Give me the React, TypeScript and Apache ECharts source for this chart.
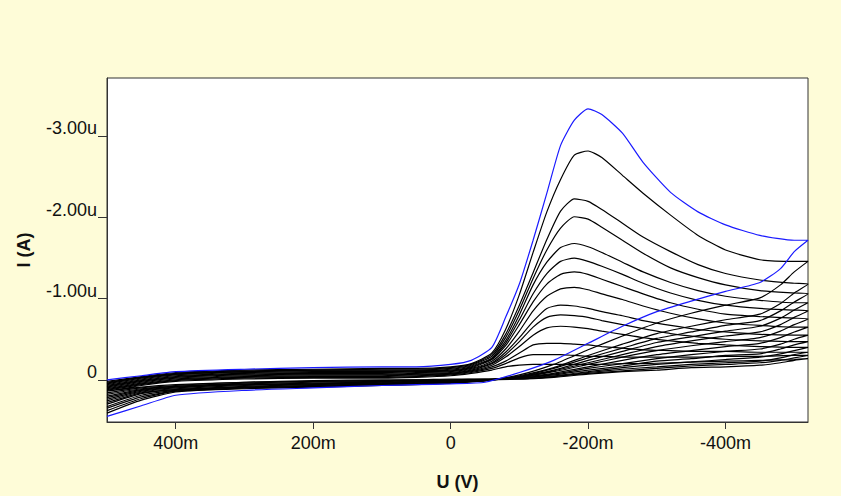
import React, { useEffect, useRef } from 'react';
import * as echarts from 'echarts';

// Voltage grids (V)
const FWD_V = [0.5, 0.45, 0.4, 0.3, 0.2, 0.1, 0.05, 0.0, -0.03, -0.06, -0.08, -0.1, -0.12, -0.14, -0.16, -0.18, -0.2, -0.22, -0.25, -0.28, -0.32, -0.36, -0.4, -0.45, -0.5, -0.52];
const REV_V = [-0.52, -0.5, -0.48, -0.45, -0.4, -0.35, -0.3, -0.25, -0.2, -0.15, -0.1, -0.05, 0.0, 0.05, 0.1, 0.2, 0.3, 0.4, 0.45, 0.5];

// Current (uA) – blue cycle
const BLUE_FWD = [0.0, -0.05, -0.10, -0.13, -0.15, -0.16, -0.16, -0.19, -0.24, -0.40, -0.77, -1.18, -1.72, -2.30, -2.89, -3.20, -3.34, -3.27, -3.04, -2.68, -2.31, -2.07, -1.91, -1.78, -1.72, -1.72];
const BLUE_REV = [-1.72, -1.58, -1.37, -1.20, -1.09, -0.97, -0.84, -0.66, -0.45, -0.24, -0.09, 0.03, 0.05, 0.06, 0.07, 0.10, 0.13, 0.19, 0.32, 0.45];

// Black cycles – forward sweeps
const K1_FWD = [0.02, -0.04, -0.09, -0.12, -0.13, -0.14, -0.14, -0.16, -0.20, -0.33, -0.62, -1.05, -1.57, -2.07, -2.47, -2.77, -2.82, -2.74, -2.52, -2.30, -2.03, -1.78, -1.60, -1.48, -1.46, -1.46];
const K2_FWD = [0.03, -0.03, -0.08, -0.11, -0.12, -0.13, -0.13, -0.15, -0.19, -0.31, -0.56, -0.92, -1.32, -1.73, -2.08, -2.23, -2.20, -2.10, -1.93, -1.76, -1.58, -1.42, -1.31, -1.23, -1.19, -1.18];
const K3_FWD = [0.04, -0.03, -0.07, -0.10, -0.12, -0.12, -0.12, -0.14, -0.18, -0.29, -0.52, -0.86, -1.25, -1.60, -1.87, -2.01, -1.98, -1.88, -1.72, -1.56, -1.38, -1.26, -1.17, -1.10, -1.07, -1.06];
const K4_FWD = [0.05, -0.02, -0.07, -0.10, -0.11, -0.11, -0.11, -0.13, -0.17, -0.27, -0.48, -0.80, -1.17, -1.45, -1.63, -1.68, -1.64, -1.57, -1.45, -1.33, -1.20, -1.10, -1.03, -0.98, -0.95, -0.95];
const K5_FWD = [0.06, -0.01, -0.06, -0.09, -0.10, -0.10, -0.11, -0.12, -0.16, -0.26, -0.45, -0.74, -1.06, -1.31, -1.46, -1.50, -1.46, -1.40, -1.30, -1.19, -1.07, -0.98, -0.92, -0.88, -0.86, -0.85];
const K6_FWD = [0.07, 0.00, -0.05, -0.08, -0.09, -0.09, -0.10, -0.11, -0.15, -0.25, -0.42, -0.68, -0.96, -1.18, -1.30, -1.33, -1.30, -1.24, -1.15, -1.06, -0.95, -0.87, -0.81, -0.78, -0.76, -0.75];
const K7_FWD = [0.08, 0.01, -0.04, -0.07, -0.08, -0.08, -0.09, -0.10, -0.14, -0.23, -0.38, -0.60, -0.85, -1.03, -1.12, -1.14, -1.11, -1.06, -0.99, -0.91, -0.82, -0.75, -0.70, -0.67, -0.65, -0.65];
const K8_FWD = [0.09, 0.02, -0.03, -0.06, -0.07, -0.07, -0.08, -0.09, -0.13, -0.21, -0.34, -0.52, -0.72, -0.88, -0.92, -0.91, -0.88, -0.84, -0.79, -0.73, -0.67, -0.62, -0.59, -0.56, -0.55, -0.55];
const K9_FWD = [0.10, 0.03, -0.02, -0.05, -0.06, -0.06, -0.07, -0.08, -0.12, -0.20, -0.31, -0.47, -0.65, -0.77, -0.80, -0.79, -0.77, -0.73, -0.68, -0.63, -0.57, -0.53, -0.50, -0.48, -0.47, -0.47];
const K10_FWD = [0.11, 0.04, -0.01, -0.04, -0.05, -0.05, -0.06, -0.08, -0.11, -0.18, -0.28, -0.41, -0.55, -0.64, -0.66, -0.65, -0.63, -0.60, -0.56, -0.52, -0.48, -0.45, -0.43, -0.41, -0.40, -0.40];
const K11_FWD = [0.12, 0.05, 0.00, -0.03, -0.04, -0.04, -0.05, -0.07, -0.10, -0.16, -0.23, -0.33, -0.43, -0.45, -0.45, -0.44, -0.43, -0.41, -0.39, -0.37, -0.36, -0.35, -0.35, -0.34, -0.34, -0.34];
const K12_FWD = [0.13, 0.06, 0.01, -0.02, -0.03, -0.03, -0.04, -0.06, -0.09, -0.14, -0.20, -0.27, -0.31, -0.31, -0.31, -0.30, -0.29, -0.29, -0.28, -0.28, -0.28, -0.28, -0.29, -0.29, -0.30, -0.30];
const K13_FWD = [0.14, 0.07, 0.02, -0.01, -0.02, -0.02, -0.03, -0.05, -0.08, -0.12, -0.16, -0.18, -0.19, -0.19, -0.19, -0.19, -0.19, -0.19, -0.20, -0.20, -0.21, -0.22, -0.23, -0.24, -0.25, -0.26];

// Black cycles – reverse sweeps
const K1_REV = [-1.46, -1.33, -1.17, -1.01, -0.92, -0.82, -0.70, -0.54, -0.37, -0.19, -0.06, 0.01, 0.04, 0.06, 0.07, 0.09, 0.11, 0.15, 0.25, 0.41];
const K2_REV = [-1.18, -1.07, -0.94, -0.81, -0.74, -0.66, -0.57, -0.44, -0.30, -0.15, -0.05, 0.01, 0.04, 0.05, 0.06, 0.08, 0.10, 0.14, 0.23, 0.38];
const K3_REV = [-1.06, -0.96, -0.85, -0.73, -0.67, -0.59, -0.51, -0.39, -0.27, -0.14, -0.04, 0.01, 0.03, 0.05, 0.06, 0.08, 0.10, 0.14, 0.21, 0.35];
const K4_REV = [-0.95, -0.86, -0.76, -0.66, -0.60, -0.53, -0.46, -0.35, -0.24, -0.12, -0.04, 0.01, 0.03, 0.04, 0.05, 0.07, 0.09, 0.13, 0.19, 0.33];
const K5_REV = [-0.85, -0.77, -0.68, -0.59, -0.54, -0.48, -0.41, -0.31, -0.21, -0.11, -0.03, 0.01, 0.03, 0.04, 0.05, 0.07, 0.09, 0.12, 0.17, 0.30];
const K6_REV = [-0.75, -0.68, -0.60, -0.52, -0.47, -0.42, -0.36, -0.28, -0.19, -0.10, -0.03, 0.00, 0.02, 0.03, 0.04, 0.06, 0.08, 0.12, 0.16, 0.28];
const K7_REV = [-0.65, -0.59, -0.52, -0.45, -0.41, -0.36, -0.31, -0.24, -0.16, -0.08, -0.03, 0.00, 0.02, 0.03, 0.04, 0.05, 0.07, 0.11, 0.15, 0.26];
const K8_REV = [-0.55, -0.50, -0.44, -0.38, -0.35, -0.31, -0.26, -0.20, -0.14, -0.07, -0.02, 0.00, 0.01, 0.02, 0.03, 0.05, 0.06, 0.10, 0.14, 0.24];
const K9_REV = [-0.47, -0.43, -0.38, -0.32, -0.30, -0.26, -0.23, -0.17, -0.12, -0.06, -0.02, 0.00, 0.01, 0.02, 0.03, 0.04, 0.06, 0.09, 0.13, 0.22];
const K10_REV = [-0.40, -0.36, -0.32, -0.28, -0.25, -0.22, -0.19, -0.15, -0.10, -0.05, -0.02, 0.00, 0.01, 0.01, 0.02, 0.03, 0.05, 0.08, 0.12, 0.20];
const K11_REV = [-0.34, -0.31, -0.27, -0.23, -0.21, -0.19, -0.16, -0.13, -0.09, -0.04, -0.01, 0.00, 0.00, 0.01, 0.01, 0.02, 0.04, 0.08, 0.11, 0.18];
const K12_REV = [-0.30, -0.27, -0.24, -0.21, -0.19, -0.17, -0.14, -0.11, -0.08, -0.04, -0.01, -0.01, 0.00, 0.00, 0.01, 0.02, 0.03, 0.07, 0.10, 0.16];
const K13_REV = [-0.26, -0.24, -0.21, -0.18, -0.16, -0.15, -0.12, -0.10, -0.07, -0.03, -0.01, -0.01, -0.01, 0.00, 0.00, 0.01, 0.03, 0.06, 0.09, 0.14];

const BLACK_FWD = [K1_FWD, K2_FWD, K3_FWD, K4_FWD, K5_FWD, K6_FWD, K7_FWD, K8_FWD, K9_FWD, K10_FWD, K11_FWD, K12_FWD, K13_FWD];
const BLACK_REV = [K1_REV, K2_REV, K3_REV, K4_REV, K5_REV, K6_REV, K7_REV, K8_REV, K9_REV, K10_REV, K11_REV, K12_REV, K13_REV];

// Tick labels
const X_TICKS = [0.4, 0.2, 0, -0.2, -0.4];
const X_LABELS = ['400m', '200m', '0', '-200m', '-400m'];
const Y_TICKS = [-3, -2, -1, 0];
const Y_LABELS = ['-3.00u', '-2.00u', '-1.00u', '0'];

const loop = (fwd: number[], rev: number[]) => [
  ...FWD_V.map((v, i) => [v, fwd[i]]),
  ...REV_V.map((v, i) => [v, rev[i]]),
];

const lookup = (ticks: number[], labels: string[]) => (val: number) => {
  const i = ticks.findIndex((t) => Math.abs(t - val) < 1e-6);
  return i >= 0 ? labels[i] : '';
};

const FONT = '"Liberation Sans", Arial, sans-serif';

export default function App() {
  const ref = useRef<HTMLDivElement>(null);
  useEffect(() => {
    const chart = echarts.init(ref.current!, null, { renderer: 'svg' });
    const series: any[] = BLACK_FWD.map((f, k) => ({
      type: 'line',
      data: loop(f, BLACK_REV[k]),
      showSymbol: false,
      symbol: 'none',
      smooth: 0.2,
      lineStyle: { color: '#000', width: 1.2 },
      silent: true,
    }));
    series.push({
      type: 'line',
      data: loop(BLUE_FWD, BLUE_REV),
      showSymbol: false,
      symbol: 'none',
      smooth: 0.2,
      lineStyle: { color: '#1a1aff', width: 1.2 },
      silent: true,
    });
    chart.setOption({
      animation: false,
      backgroundColor: '#FEFCD8',
      textStyle: { fontFamily: FONT },
      grid: {
        left: 107,
        right: 33,
        top: 78,
        bottom: 70,
        show: true,
        backgroundColor: '#ffffff',
        borderColor: '#333',
        borderWidth: 1,
      },
      xAxis: {
        type: 'value',
        inverse: true,
        min: -0.52,
        max: 0.5,
        axisLine: { show: true, onZero: false, lineStyle: { color: '#333' } },
        axisTick: { show: true, length: 7, customValues: X_TICKS, lineStyle: { color: '#333' } },
        axisLabel: {
          customValues: X_TICKS,
          formatter: lookup(X_TICKS, X_LABELS),
          fontSize: 18,
          color: '#111',
          margin: 12,
          fontFamily: FONT,
        },
        splitLine: { show: false },
        name: 'U (V)',
        nameLocation: 'middle',
        nameGap: 51,
        nameTextStyle: { fontWeight: 'bold', fontSize: 18, color: '#111', fontFamily: FONT },
      },
      yAxis: {
        type: 'value',
        inverse: true,
        min: -3.72,
        max: 0.52,
        axisLine: { show: true, onZero: false, lineStyle: { color: '#333' } },
        axisTick: { show: true, length: 9, customValues: Y_TICKS, lineStyle: { color: '#333' } },
        axisLabel: {
          customValues: Y_TICKS,
          formatter: lookup(Y_TICKS, Y_LABELS),
          fontSize: 18,
          color: '#111',
          margin: 10,
          verticalAlign: 'bottom',
          lineHeight: 16,
          fontFamily: FONT,
        },
        splitLine: { show: false },
        name: 'I (A)',
        nameLocation: 'middle',
        nameGap: 74,
        nameTextStyle: { fontWeight: 'bold', fontSize: 18, color: '#111', fontFamily: FONT },
      },
      series,
    });
    return () => chart.dispose();
  }, []);
  return (
    <div
      ref={ref}
      style={{ position: 'fixed', left: 0, top: 0, width: 841, height: 496, background: '#FEFCD8' }}
    />
  );
}
